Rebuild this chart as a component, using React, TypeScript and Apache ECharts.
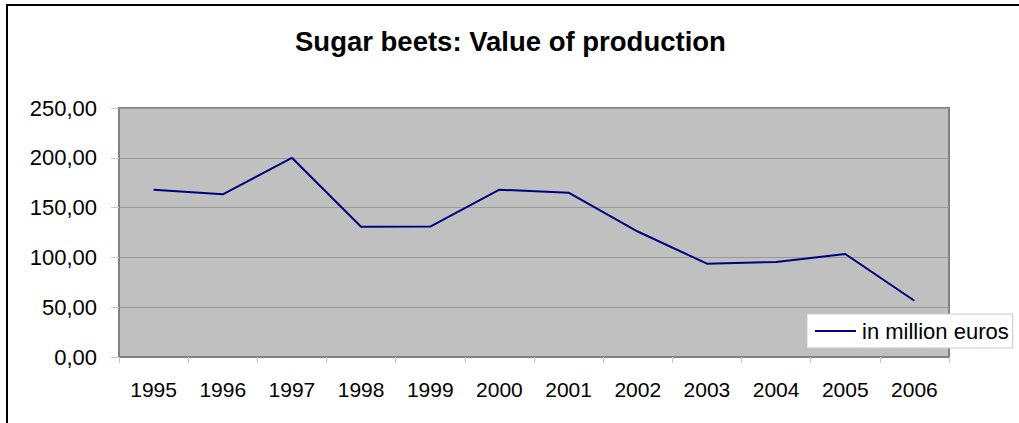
import React, { useEffect, useRef } from "react";
import * as echarts from "echarts";

const titleText = "Sugar beets: Value of production";
const seriesName = "in million euros";
const years = ["1995", "1996", "1997", "1998", "1999", "2000", "2001", "2002", "2003", "2004", "2005", "2006"];
const values = [168, 163.3, 200, 130.8, 131, 168, 165, 126, 93.7, 95.4, 103.4, 56.5];
const yMin = 0;
const yMax = 250;
const yStep = 50;

const FONT = 'Arial, "Liberation Sans", sans-serif';

export default function App() {
  const ref = useRef<HTMLDivElement>(null);
  useEffect(() => {
    if (!ref.current) return;
    const chart = echarts.init(ref.current, null, { renderer: "svg" });
    chart.setOption({
      animation: false,
      backgroundColor: "#ffffff",
      title: {
        text: titleText,
        left: 295,
        top: 27,
        padding: 0,
        textStyle: { fontFamily: FONT, fontSize: 27.5, fontWeight: "bold", color: "#000" },
      },
      graphic: [
        {
          type: "rect",
          shape: { x: 7, y: 5, width: 1100, height: 600 },
          style: { fill: "none", stroke: "#000", lineWidth: 2 },
          silent: true,
          z: 100,
        },
      ],
      legend: {
        left: 807,
        top: 314,
        orient: "horizontal",
        backgroundColor: "#ffffff",
        borderColor: "#c8c8c8",
        borderWidth: 1,
        padding: [6, 4, 6, 8],
        itemWidth: 41,
        itemHeight: 2,
        data: [{ name: seriesName, icon: "rect" }],
        textStyle: { fontFamily: FONT, fontSize: 22, color: "#000", padding: [0, 0, 0, 1] },
      },
      grid: {
        left: 119,
        right: 70,
        top: 108,
        bottom: 66,
        show: true,
        backgroundColor: "#c0c0c0",
        borderColor: "#808080",
        borderWidth: 2,
        containLabel: false,
      },
      xAxis: {
        type: "category",
        data: years,
        boundaryGap: true,
        axisLine: { show: true, lineStyle: { color: "#808080", width: 2 } },
        axisTick: { show: true, length: 6, lineStyle: { color: "#c8c8c8", width: 1 } },
        axisLabel: { fontFamily: FONT, fontSize: 21, color: "#000", margin: 22 },
        splitLine: { show: false },
      },
      yAxis: {
        type: "value",
        min: yMin,
        max: yMax,
        interval: yStep,
        axisLine: { show: true, lineStyle: { color: "#808080", width: 2 } },
        axisTick: { show: true, length: 8, lineStyle: { color: "#c8c8c8", width: 1 } },
        axisLabel: {
          fontFamily: FONT,
          fontSize: 22,
          color: "#000",
          margin: 22,
          formatter: (v: number) => v.toFixed(2).replace(".", ","),
        },
        splitLine: { show: true, lineStyle: { color: "#999999", width: 1 } },
      },
      series: [
        {
          name: seriesName,
          type: "line",
          data: values,
          symbol: "none",
          lineStyle: { color: "#000080", width: 2 },
          itemStyle: { color: "#000080" },
        },
      ],
    });
    return () => chart.dispose();
  }, []);
  return (
    <div
      ref={ref}
      style={{ position: "absolute", left: 0, top: 0, width: 1019, height: 423 }}
    />
  );
}
